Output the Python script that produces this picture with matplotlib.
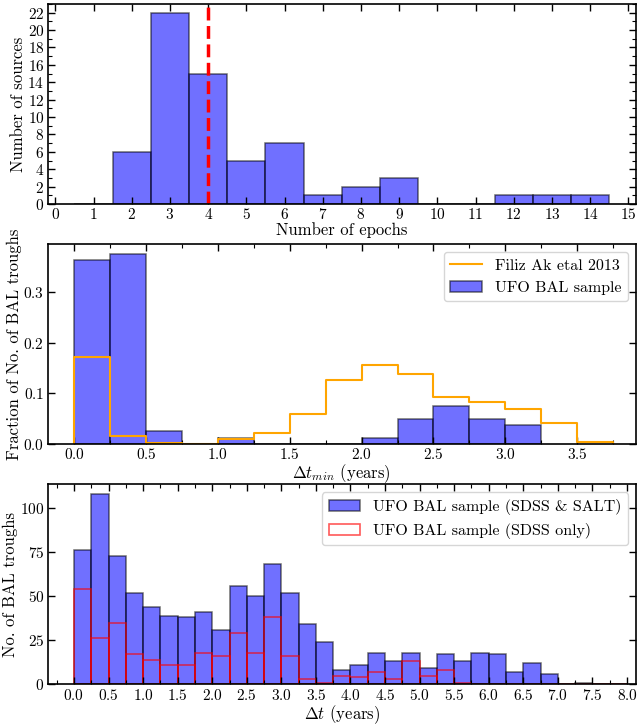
"""Epoch counts and time-separation histograms for the UFO BAL sample."""

import matplotlib
matplotlib.use("Agg")
import matplotlib.pyplot as plt
import numpy as np
from matplotlib.ticker import MultipleLocator

# Panel 1: number of epochs per source
epochs = [1, 2, 3, 4, 5, 6, 7, 8, 9, 10, 11, 12, 13, 14]
n_sources = [0, 6, 22, 15, 5, 7, 1, 2, 3, 0, 0, 1, 1, 1]
epoch_cut = 4

# Panel 2: minimum time separation (fractions per 0.25 yr bin)
dtmin_edges = [0.0, 0.25, 0.5, 0.75, 1.0, 1.25, 1.5, 1.75, 2.0, 2.25,
               2.5, 2.75, 3.0, 3.25]
ufo_frac = [0.3625, 0.375, 0.025, 0.0, 0.0125, 0.0, 0.0, 0.0, 0.0125,
            0.05, 0.075, 0.05, 0.0375]
filiz_edges = [0.0, 0.25, 0.5, 0.75, 1.0, 1.25, 1.5, 1.75, 2.0, 2.25,
               2.5, 2.75, 3.0, 3.25, 3.5, 3.75]
filiz_frac = [0.172, 0.015, 0.002, 0.0, 0.009, 0.022, 0.060, 0.126, 0.156,
              0.138, 0.093, 0.083, 0.069, 0.041, 0.003]

# Panel 3: all time separations (counts per 0.25 yr bin, 0 to 8 yr)
dt_edges = np.arange(0, 8.01, 0.25)
all_counts = [76, 108, 73, 52, 44, 39, 38, 41, 31, 56, 50, 68, 52, 34, 24, 8,
              11, 18, 13, 18, 9, 17, 13, 18, 17, 7, 12, 6, 0, 1, 0, 0]
sdss_counts = [54, 26, 35, 17, 14, 11, 11, 18, 16, 29, 18, 38, 16, 3, 1, 5,
               4, 7, 3, 13, 5, 8, 1, 0, 0, 0, 0, 0, 0, 0, 0, 0]

plt.rcParams["font.family"] = ["cmr10", "DejaVu Serif"]
plt.rcParams["mathtext.fontset"] = "cm"
plt.rcParams["axes.formatter.use_mathtext"] = True
plt.rcParams["axes.linewidth"] = 1.2

fig = plt.figure(figsize=(6.37, 7.27), dpi=100)
ax1 = fig.add_axes([0.0749, 0.7194, 0.9235, 0.2751])
ax2 = fig.add_axes([0.0749, 0.3893, 0.9235, 0.2751])
ax3 = fig.add_axes([0.0749, 0.0587, 0.9235, 0.2751])

bar_kw = dict(histtype="bar", color="blue", edgecolor="black", alpha=0.56, lw=1.1)

# 1. epochs
ax1.hist(epochs, bins=np.arange(0.5, 15, 1), weights=n_sources, **bar_kw)
ax1.axvline(epoch_cut, color="red", ls="--", lw=2.5)
ax1.set_xlim(-0.2, 15.2)
ax1.set_ylim(0, 23)
ax1.xaxis.set_major_locator(MultipleLocator(1))
ax1.yaxis.set_major_locator(MultipleLocator(2))
ax1.yaxis.set_minor_locator(MultipleLocator(1))
ax1.set_xlabel("Number of epochs", fontsize=12, labelpad=0)
ax1.set_ylabel("Number of sources", fontsize=12, labelpad=1)

# 2. minimum separation
ax2.plot(np.r_[filiz_edges[0], filiz_edges], np.r_[0, filiz_frac, 0],
         drawstyle="steps-post", color="orange", lw=1.5,
         label="Filiz Ak etal 2013")
ax2.hist(dtmin_edges[:-1], bins=dtmin_edges, weights=ufo_frac,
         label="UFO BAL sample", **bar_kw)
ax2.set_xlim(-0.185, 3.91)
ax2.set_ylim(0, 0.395)
ax2.xaxis.set_major_locator(MultipleLocator(0.5))
ax2.xaxis.set_minor_locator(MultipleLocator(0.25))
ax2.yaxis.set_major_locator(MultipleLocator(0.1))
ax2.set_xlabel(r"$\Delta t_{min}$ (years)", fontsize=12, labelpad=0)
ax2.set_ylabel("Fraction of No. of BAL troughs", fontsize=12, labelpad=1)
ax2.legend(loc="upper right", fontsize=11.5)

# 3. all separations
ax3.hist(dt_edges[:-1], bins=dt_edges, weights=all_counts,
         label="UFO BAL sample (SDSS & SALT)", **bar_kw)
ax3.hist(dt_edges[:-1], bins=dt_edges, weights=sdss_counts, histtype="bar",
         fill=False, edgecolor="red", alpha=0.65, lw=1.2,
         label="UFO BAL sample (SDSS only)")
ax3.set_xlim(-0.38, 8.13)
ax3.set_ylim(0, 113.4)
ax3.xaxis.set_major_locator(MultipleLocator(0.5))
ax3.xaxis.set_minor_locator(MultipleLocator(0.25))
ax3.yaxis.set_major_locator(MultipleLocator(25))
ax3.set_xlabel(r"$\Delta t$ (years)", fontsize=12, labelpad=0)
ax3.set_ylabel("No. of BAL troughs", fontsize=12, labelpad=1)
ax3.legend(loc="upper right", fontsize=11.5)

for ax in (ax1, ax2, ax3):
    ax.tick_params(which="both", direction="in", top=True, right=True,
                   labelsize=11)
    ax.tick_params(which="major", length=5, width=1, pad=2.5)
    ax.tick_params(which="minor", length=3, width=0.8)

fig.savefig("out.png", dpi=100)
plt.close(fig)
